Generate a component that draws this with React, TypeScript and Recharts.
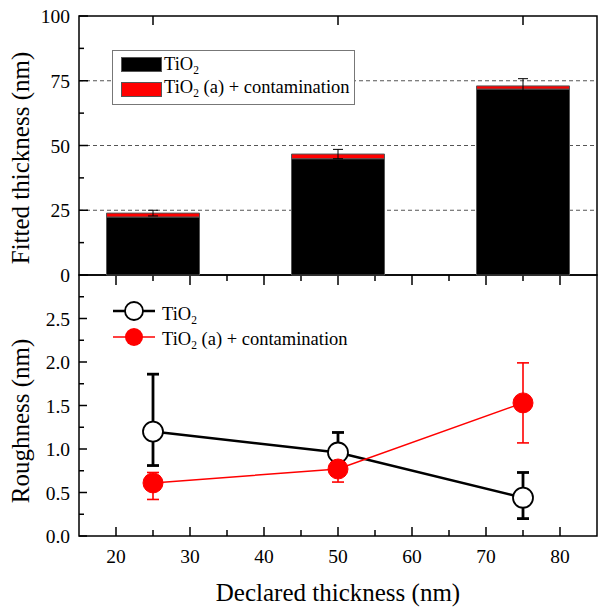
import React from 'react'
import {
  ComposedChart,
  Bar,
  Line,
  Scatter,
  XAxis,
  YAxis,
  CartesianGrid,
  ErrorBar,
  ReferenceArea,
} from 'recharts'

const FONT = '"Liberation Serif", "Times New Roman", serif'

// declared thickness (nm), shared by both panels
const declared = [25, 50, 75]

// top panel: fitted thickness (nm)
const tio2Thickness = [22.4, 44.9, 71.8]
const contamThickness = [1.5, 1.8, 1.2]
const thicknessErr = [1.1, 1.8, 2.8]

// bottom panel: roughness (nm), errors as [down, up]
const tio2Roughness = [1.2, 0.96, 0.44]
const tio2RoughErr = [
  [0.39, 0.66],
  [0.23, 0.23],
  [0.24, 0.29],
]
const contamRoughness = [0.61, 0.77, 1.53]
const contamRoughErr = [
  [0.19, 0.12],
  [0.15, 0.08],
  [0.46, 0.46],
]

// ticks
const thicknessTicks = [0, 12.5, 25, 37.5, 50, 62.5, 75, 87.5, 100]
const thicknessMajor = [0, 25, 50, 75, 100]
const roughTicks = [0, 0.25, 0.5, 0.75, 1, 1.25, 1.5, 1.75, 2, 2.25, 2.5, 2.75]
const roughMajor = [0, 0.5, 1, 1.5, 2, 2.5]
const xTicks = [20, 25, 30, 35, 40, 45, 50, 55, 60, 65, 70, 75, 80]
const xMajor = [20, 30, 40, 50, 60, 70, 80]

const thicknessData = declared.map((x, i) => ({
  x,
  tio2: tio2Thickness[i],
  contam: contamThickness[i],
  total: tio2Thickness[i] + contamThickness[i],
  err: thicknessErr[i],
}))

const roughData = declared.map((x, i) => ({
  x,
  r1: tio2Roughness[i],
  r1err: tio2RoughErr[i],
  r2: contamRoughness[i],
  r2err: contamRoughErr[i],
}))

type Side = 'left' | 'right' | 'top' | 'bottom'

// ticks drawn inward, labels outward
function makeTick(
  side: Side,
  majors: number[],
  majorLen: number,
  minorLen: number,
  label?: (v: number) => string
) {
  return (props: any) => {
    const { x, y, payload } = props
    const v = payload.value
    const major = majors.some((m) => Math.abs(m - v) < 1e-9)
    const len = major ? majorLen : minorLen
    let line = null
    let text = null
    if (side === 'left') {
      line = <line x1={x} y1={y} x2={x + len} y2={y} stroke="#000" strokeWidth={1.5} />
      if (label && major)
        text = (
          <text x={x - 9} y={y + 7} textAnchor="end" fontSize={19.5} fontFamily={FONT} fill="#000">
            {label(v)}
          </text>
        )
    } else if (side === 'right') {
      line = <line x1={x} y1={y} x2={x - len} y2={y} stroke="#000" strokeWidth={1.5} />
    } else if (side === 'top') {
      line = <line x1={x} y1={y} x2={x} y2={y + len} stroke="#000" strokeWidth={1.5} />
    } else {
      line = <line x1={x} y1={y} x2={x} y2={y - len} stroke="#000" strokeWidth={1.5} />
      if (label && major)
        text = (
          <text x={x} y={y + 27} textAnchor="middle" fontSize={19.5} fontFamily={FONT} fill="#000">
            {label(v)}
          </text>
        )
    }
    return (
      <g>
        {line}
        {text}
      </g>
    )
  }
}

function OpenDot(props: any) {
  const { cx, cy, index } = props
  return <circle key={`o${index}`} cx={cx} cy={cy} r={10} fill="#fff" stroke="#000" strokeWidth={1.8} />
}

function RedDot(props: any) {
  const { cx, cy, index } = props
  return <circle key={`r${index}`} cx={cx} cy={cy} r={10} fill="#ff0000" stroke="#ff0000" strokeWidth={1} />
}

const Sub = ({ children }: { children: React.ReactNode }) => (
  <span style={{ fontSize: '0.62em', position: 'relative', top: '0.35em' }}>{children}</span>
)

const legendText: React.CSSProperties = {
  position: 'absolute',
  fontFamily: FONT,
  fontSize: 18.5,
  lineHeight: 1,
  whiteSpace: 'nowrap',
  color: '#000',
}

const titleText: React.CSSProperties = {
  position: 'absolute',
  fontFamily: FONT,
  fontSize: 25,
  lineHeight: 1,
  whiteSpace: 'nowrap',
  color: '#000',
}

const axisCommon = {
  tickSize: 0,
  tickMargin: 0,
  tickLine: false,
  axisLine: false,
  interval: 0 as const,
  stroke: '#000',
}

export default function App() {
  return (
    <div style={{ position: 'absolute', left: 0, top: 0, width: 598, height: 610, background: '#fff' }}>
      {/* bottom panel: roughness */}
      <div style={{ position: 'absolute', left: 0, top: 0 }}>
        <ComposedChart width={598} height={610} data={roughData} margin={{ top: 274, right: 0, left: 0, bottom: 14 }}>
          <XAxis
            {...axisCommon}
            xAxisId="b"
            dataKey="x"
            type="number"
            domain={[15, 85]}
            ticks={xTicks}
            height={60}
            tick={makeTick('bottom', xMajor, 9, 6, (v) => String(v))}
          />
          <XAxis
            {...axisCommon}
            xAxisId="t"
            dataKey="x"
            type="number"
            orientation="top"
            domain={[15, 85]}
            ticks={xTicks}
            height={1}
            tick={makeTick('top', xMajor, 10, 6)}
          />
          <YAxis
            {...axisCommon}
            yAxisId="l"
            type="number"
            domain={[0, 3]}
            ticks={roughTicks}
            width={79}
            tick={makeTick('left', roughMajor, 8, 5, (v) => v.toFixed(1))}
          />
          <YAxis
            {...axisCommon}
            yAxisId="r"
            orientation="right"
            type="number"
            domain={[0, 3]}
            ticks={roughTicks}
            width={1}
            tick={makeTick('right', roughMajor, 8, 5)}
          />
          <ReferenceArea
            xAxisId="b"
            yAxisId="l"
            x1={15}
            x2={85}
            y1={0}
            y2={3}
            fill="none"
            fillOpacity={0}
            stroke="#000"
            strokeWidth={1.5}
          />
          <Line
            xAxisId="b"
            yAxisId="l"
            dataKey="r1"
            type="linear"
            stroke="#000"
            strokeWidth={2.5}
            dot={OpenDot}
            activeDot={false}
            isAnimationActive={false}
          >
            <ErrorBar dataKey="r1err" direction="y" width={6} stroke="#000" strokeWidth={2.8} />
          </Line>
          <Line
            xAxisId="b"
            yAxisId="l"
            dataKey="r2"
            type="linear"
            stroke="#ff0000"
            strokeWidth={1.5}
            dot={RedDot}
            activeDot={false}
            isAnimationActive={false}
          >
            <ErrorBar dataKey="r2err" direction="y" width={6} stroke="#ff0000" strokeWidth={1.6} />
          </Line>
        </ComposedChart>
      </div>

      {/* top panel: fitted thickness */}
      <div style={{ position: 'absolute', left: 0, top: 0 }}>
        <ComposedChart width={598} height={290} data={thicknessData} margin={{ top: 15, right: 0, left: 0, bottom: 14 }}>
          <CartesianGrid
            xAxisId="b"
            yAxisId="l"
            vertical={false}
            horizontalValues={[25, 50, 75]}
            stroke="#555"
            strokeDasharray="4 3"
            strokeWidth={1}
          />
          <XAxis
            {...axisCommon}
            xAxisId="b"
            dataKey="x"
            type="number"
            domain={[15, 85]}
            ticks={xTicks}
            height={1}
            tick={false}
          />
          <XAxis
            {...axisCommon}
            xAxisId="t"
            dataKey="x"
            type="number"
            orientation="top"
            domain={[15, 85]}
            ticks={declared}
            height={1}
            tick={makeTick('top', declared, 9, 9)}
          />
          <YAxis
            {...axisCommon}
            yAxisId="l"
            type="number"
            domain={[0, 100]}
            ticks={thicknessTicks}
            width={79}
            tick={makeTick('left', thicknessMajor, 9, 5, (v) => String(v))}
          />
          <YAxis
            {...axisCommon}
            yAxisId="r"
            orientation="right"
            type="number"
            domain={[0, 100]}
            ticks={thicknessTicks.slice(1, -1)}
            width={1}
            tick={makeTick('right', thicknessMajor, 9, 5)}
          />
          <Bar
            xAxisId="b"
            yAxisId="l"
            dataKey="tio2"
            stackId="s"
            barSize={93}
            fill="#000"
            stroke="#555"
            strokeWidth={1}
            isAnimationActive={false}
          />
          <Bar
            xAxisId="b"
            yAxisId="l"
            dataKey="contam"
            stackId="s"
            barSize={93}
            fill="#ff0000"
            stroke="#555"
            strokeWidth={1}
            isAnimationActive={false}
          />
          <Scatter xAxisId="b" yAxisId="l" dataKey="total" shape={() => <g />} isAnimationActive={false}>
            <ErrorBar dataKey="err" direction="y" width={5} stroke="#000" strokeWidth={1} />
          </Scatter>
          <ReferenceArea
            xAxisId="b"
            yAxisId="l"
            x1={15}
            x2={85}
            y1={0}
            y2={100}
            fill="none"
            fillOpacity={0}
            stroke="#000"
            strokeWidth={1.5}
          />
        </ComposedChart>
      </div>

      {/* top legend */}
      <div
        style={{
          position: 'absolute',
          left: 112,
          top: 50,
          width: 241,
          height: 53,
          border: '1px solid #777',
          background: '#fff',
        }}
      />
      <div style={{ position: 'absolute', left: 121, top: 57, width: 39, height: 13, background: '#000', border: '1px solid #555' }} />
      <div style={{ position: 'absolute', left: 121, top: 82, width: 39, height: 13, background: '#ff0000', border: '1px solid #555' }} />
      <div style={{ ...legendText, left: 164, top: 55 }}>
        TiO<Sub>2</Sub>
      </div>
      <div style={{ ...legendText, left: 164, top: 78 }}>
        TiO<Sub>2</Sub> (a) + contamination
      </div>

      {/* bottom legend */}
      <svg style={{ position: 'absolute', left: 0, top: 0 }} width={200} height={360}>
        <line x1={113} y1={311} x2={155} y2={311} stroke="#000" strokeWidth={2.5} />
        <circle cx={134} cy={311} r={9} fill="#fff" stroke="#000" strokeWidth={1.8} />
        <line x1={113} y1={337} x2={155} y2={337} stroke="#ff0000" strokeWidth={1.5} />
        <circle cx={134} cy={337} r={9} fill="#ff0000" />
      </svg>
      <div style={{ ...legendText, left: 162, top: 305 }}>
        TiO<Sub>2</Sub>
      </div>
      <div style={{ ...legendText, left: 162, top: 330 }}>
        TiO<Sub>2</Sub> (a) + contamination
      </div>

      {/* axis titles */}
      <div
        style={{
          ...titleText,
          left: 20,
          top: 158,
          transform: 'translate(-50%, -50%) rotate(-90deg)',
        }}
      >
        Fitted thickness (nm)
      </div>
      <div
        style={{
          ...titleText,
          left: 20,
          top: 421,
          transform: 'translate(-50%, -50%) rotate(-90deg)',
        }}
      >
        Roughness (nm)
      </div>
      <div style={{ ...titleText, left: 338, top: 592, transform: 'translate(-50%, -50%)' }}>
        Declared thickness (nm)
      </div>
    </div>
  )
}
